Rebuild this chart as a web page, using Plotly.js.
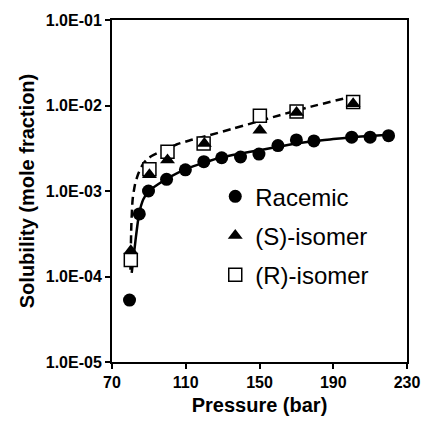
<!DOCTYPE html>
<html>
<head>
<meta charset="utf-8">
<script src="https://cdn.plot.ly/plotly-3.0.1.min.js"></script>
<style>html,body{margin:0;padding:0;background:#fff;}#chart{width:421px;height:422px;}</style>
</head>
<body>
<div id="chart"></div>
<script>
// Racemic data
const racemicP = [79.5, 84.8, 89.8, 99.6, 109.8, 119.8, 129.5, 139.7, 149.7, 160, 170, 179.5, 200, 210, 220];
const racemicY = [5.3e-5, 5.4e-4, 1.0e-3, 1.37e-3, 1.77e-3, 2.2e-3, 2.45e-3, 2.5e-3, 2.7e-3, 3.4e-3, 3.96e-3, 3.85e-3, 4.26e-3, 4.26e-3, 4.44e-3];
// (S)-isomer data
const sP = [80.2, 90.3, 100.1, 120.1, 150.2, 170.1, 200.8];
const sY = [2.0e-4, 1.55e-3, 2.3e-3, 3.6e-3, 5.15e-3, 8.3e-3, 1.05e-2];
// (R)-isomer data
const rP = [80.2, 90.3, 100.1, 119.7, 150.2, 170.1, 200.8];
const rY = [1.56e-4, 1.8e-3, 2.88e-3, 3.6e-3, 7.6e-3, 8.5e-3, 1.1e-2];
// Model curve for racemic (solid)
const fitRacP = [80.7, 82.7, 84.7, 87, 90, 95, 100, 110, 120, 130, 140, 150, 160, 170, 180, 190, 200, 210, 220];
const fitRacY = [1.1e-4, 2.6e-4, 5.4e-4, 8.0e-4, 1.0e-3, 1.2e-3, 1.4e-3, 1.8e-3, 2.15e-3, 2.5e-3, 2.75e-3, 3.0e-3, 3.3e-3, 3.6e-3, 3.85e-3, 4.05e-3, 4.25e-3, 4.4e-3, 4.55e-3];
// Model curve for isomers (dashed)
const fitIsoP = [80, 80.5, 81.2, 82.5, 84.3, 87, 90, 94.3, 100, 105, 112, 123, 136, 147, 161, 178, 198];
const fitIsoY = [1.2e-4, 4e-4, 8e-4, 1.2e-3, 1.6e-3, 2.1e-3, 2.45e-3, 2.75e-3, 3.1e-3, 3.5e-3, 3.9e-3, 4.5e-3, 5.4e-3, 6.3e-3, 7.7e-3, 9.7e-3, 1.24e-2];
// Tick labels
const yTickVals = [1e-5, 1e-4, 1e-3, 1e-2, 1e-1];
const yTickText = ['1.0E-05', '1.0E-04', '1.0E-03', '1.0E-02', '1.0E-01'];
const xTickVals = [70, 110, 150, 190, 230];

const traces = [
  {x: fitRacP, y: fitRacY, mode: 'lines', line: {color: '#000', width: 2.5, shape: 'spline', smoothing: 0.6}, showlegend: false, hoverinfo: 'skip'},
  {x: fitIsoP, y: fitIsoY, mode: 'lines', line: {color: '#000', width: 2.5, dash: '8px,5px', shape: 'spline', smoothing: 0.6}, showlegend: false, hoverinfo: 'skip'},
  {x: racemicP, y: racemicY, mode: 'markers', name: 'Racemic', legendrank: 1, legendgroup: 'a',
   marker: {symbol: 'circle', size: 13, color: '#000'}},
  {x: rP, y: rY, mode: 'markers', name: '(R)-isomer', legendrank: 3, legendgroup: 'c',
   marker: {symbol: 'square', size: 13, color: '#fff', line: {color: '#000', width: 1.5}}},
  {x: sP, y: sY, mode: 'markers', name: '(S)-isomer', legendrank: 2, legendgroup: 'b',
   marker: {symbol: 'triangle-up', size: 13, color: '#000'}}
];

const axisFont = {family: 'Liberation Sans, Arial, sans-serif', size: 16, color: '#000', weight: 'bold'};
const layout = {
  width: 421, height: 422,
  margin: {l: 112, r: 14, t: 20, b: 60},
  paper_bgcolor: '#fff', plot_bgcolor: '#fff',
  font: {family: 'Liberation Sans, Arial, sans-serif', color: '#000'},
  showlegend: true,
  legend: {x: 0.35, y: 0.549, xanchor: 'left', yanchor: 'top', bgcolor: 'rgba(0,0,0,0)',
    font: {family: 'Liberation Sans, Arial, sans-serif', size: 24, color: '#000'},
    traceorder: 'grouped', tracegroupgap: 5},
  xaxis: {
    type: 'linear', range: [70, 230], tickvals: xTickVals, ticktext: xTickVals.map(String),
    showgrid: false, zeroline: false, showline: true, mirror: true, linecolor: '#000', linewidth: 2,
    ticks: 'outside', ticklen: 5, tickwidth: 2, tickcolor: '#000',
    tickfont: axisFont,
    title: {text: 'Pressure (bar)', font: {family: 'Liberation Sans, Arial, sans-serif', size: 20, color: '#000', weight: 'bold'}, standoff: 8}
  },
  yaxis: {
    type: 'log', range: [-5, -1], tickvals: yTickVals, ticktext: yTickText,
    showgrid: false, zeroline: false, showline: true, mirror: true, linecolor: '#000', linewidth: 2,
    ticks: 'outside', ticklen: 5, tickwidth: 2, tickcolor: '#000',
    tickfont: axisFont,
    title: {text: 'Solubility (mole fraction)', font: {family: 'Liberation Sans, Arial, sans-serif', size: 20, color: '#000', weight: 'bold'}, standoff: 6}
  }
};

Plotly.newPlot('chart', traces, layout, {displayModeBar: false, staticPlot: true});
</script>
</body>
</html>
